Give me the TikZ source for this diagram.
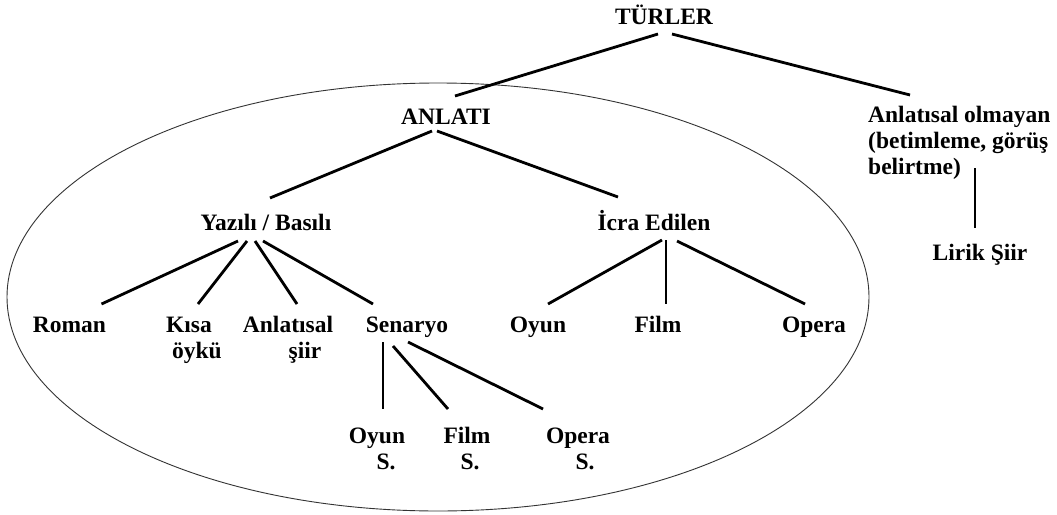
\documentclass[tikz,border=0pt]{standalone}
\usepackage{fontspec}
\setmainfont{Liberation Serif}
\newfontfamily\diagfont{Liberation Serif}
\begin{document}
\begin{tikzpicture}[x=1pt,y=-1pt,
  lbl/.style={font=\diagfont\fontsize{23.5}{26}\selectfont\bfseries, inner sep=0pt, anchor=base, align=center},
  conn/.style={line width=2.8pt},
  oval/.style={line width=0.9pt, draw=black!80}]
\useasboundingbox[fill=white] (0,0) rectangle (1057,514);
\draw[oval] (438,297) ellipse [x radius=431, y radius=214];

\node[lbl] (turler) at (664,24) {TÜRLER};
\node[lbl] (anlati) at (446,124) {ANLATI};
\node[lbl, anchor=base west, align=left] (olm) at (868,174) {Anlatısal olmayan\\(betimleme, görüş\\belirtme)};
\node[lbl] (lirik) at (980,260) {Lirik Şiir};
\node[lbl] (yaz) at (266,230) {Yazılı / Basılı};
\node[lbl] (icra) at (654,230) {İcra Edilen};
\node[lbl] (roman) at (69.5,332) {Roman};
\node[lbl] (kisa) at (189,358) {Kısa\\\hspace*{16pt}öykü};
\node[lbl] (anls) at (288,358) {Anlatısal\\\hspace*{34pt}şiir};
\node[lbl] (sen) at (407,332) {Senaryo};
\node[lbl] (oyun) at (538,332) {Oyun};
\node[lbl] (film) at (658,332) {Film};
\node[lbl] (opera) at (814,332) {Opera};
\node[lbl] (oyuns) at (377,469) {Oyun\\\hspace*{18pt}S.};
\node[lbl] (films) at (467,469) {Film\\\hspace*{6pt}S.};
\node[lbl] (operas) at (578,469) {Opera\\\hspace*{14pt}S.};

\draw[conn] ([shift={(-6,10)}]turler.base) -- ([shift={(9,-28)}]anlati.base);
\draw[conn] ([shift={(8,10)}]turler.base) -- ([shift={(42,-79)}]olm.base west);
\draw[conn] ([shift={(107,-6)}]olm.base west) -- ([shift={(-5,-32)}]lirik.base);

\draw[conn] ([shift={(-14,7)}]anlati.base) -- ([shift={(4,-32)}]yaz.base);
\draw[conn] ([shift={(-9,7)}]anlati.base) -- ([shift={(-36,-33)}]icra.base);

\draw[conn] ([shift={(-28,11)}]yaz.base) -- ([shift={(32,-28)}]roman.base);
\draw[conn] ([shift={(-19,11)}]yaz.base) -- ([shift={(9,-54)}]kisa.base);
\draw[conn] ([shift={(-11,11)}]yaz.base) -- ([shift={(9,-54)}]anls.base);
\draw[conn] ([shift={(-3,11)}]yaz.base) -- ([shift={(-34,-28)}]sen.base);

\draw[conn] ([shift={(8,10)}]icra.base) -- ([shift={(10,-28)}]oyun.base);
\draw[conn] ([shift={(12,10)}]icra.base) -- ([shift={(8,-28)}]film.base);
\draw[conn] ([shift={(23,11)}]icra.base) -- ([shift={(-9,-28)}]opera.base);

\draw[conn] ([shift={(-24,10)}]sen.base) -- ([shift={(6,-60)}]oyuns.base);
\draw[conn] ([shift={(-14,14)}]sen.base) -- ([shift={(-19,-60)}]films.base);
\draw[conn] ([shift={(1,10)}]sen.base) -- ([shift={(-35,-60)}]operas.base);
\end{tikzpicture}
\end{document}
